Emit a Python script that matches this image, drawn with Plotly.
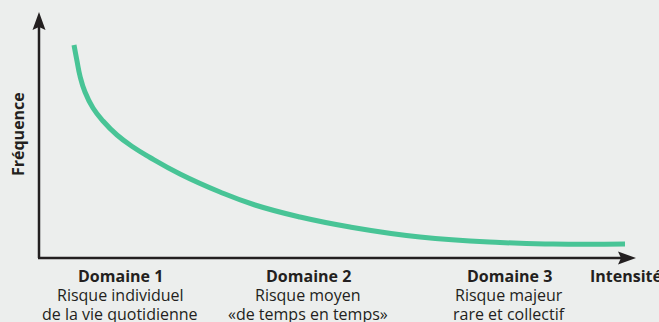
import plotly.graph_objects as go

# curve (intensity vs frequency, arbitrary units)
intensite = [35, 38, 41, 46, 54, 64, 78, 94, 111, 141, 181, 216, 261, 311, 381, 461, 514, 586]
frequence = [213, 197, 182, 166, 150, 137, 123, 111, 100.5, 84, 66, 53, 41, 31, 21, 15.5, 14, 14]

domaines = ["Domaine 1", "Domaine 2", "Domaine 3"]
domaine_x = [81, 269, 470]
sous_titres = [
    ["Risque individuel", "de la vie quotidienne"],
    ["Risque moyen", "«de temps en temps»"],
    ["Risque majeur", "rare et collectif"],
]

INK = "#231f20"
GREEN = "#48c496"
BG = "#eceeed"
FONT = "Open Sans"
SIZE = 16

fig = go.Figure()

fig.add_trace(go.Scatter(
    x=intensite, y=frequence, mode="lines",
    line=dict(color=GREEN, width=5, shape="spline", smoothing=1.3),
    hoverinfo="skip", showlegend=False,
))

# axes drawn as arrows
fig.add_shape(type="line", x0=0, y0=0, x1=0, y1=234, line=dict(color=INK, width=2.5))
fig.add_shape(type="line", x0=-1, y0=0, x1=584, y1=0, line=dict(color=INK, width=2.5))
fig.add_shape(type="path", path="M 0 246 L -6.5 228 L 0 231 L 6.5 228 Z",
              fillcolor=INK, line=dict(width=0))
fig.add_shape(type="path", path="M 597 0 L 579 6.5 L 582 0 L 579 -6.5 Z",
              fillcolor=INK, line=dict(width=0))

for name, x, lines in zip(domaines, domaine_x, sous_titres):
    fig.add_annotation(x=x, y=-18, text=f"<b>{name}</b>", showarrow=False,
                       font=dict(size=SIZE, color=INK, family=FONT))
    for i, t in enumerate(lines):
        fig.add_annotation(x=x, y=-37 - 19 * i, text=t, showarrow=False,
                           font=dict(size=SIZE, color=INK, family=FONT))

fig.add_annotation(x=549, y=-18, text="<b>Intensité</b>", showarrow=False,
                   xanchor="left", font=dict(size=SIZE, color=INK, family=FONT))
fig.add_annotation(x=-21, y=124, text="<b>Fréquence</b>", showarrow=False,
                   textangle=-90, font=dict(size=SIZE, color=INK, family=FONT))

fig.update_layout(
    width=659, height=322,
    margin=dict(l=0, r=0, t=0, b=0),
    paper_bgcolor=BG, plot_bgcolor=BG,
    xaxis=dict(range=[-39, 620], visible=False, fixedrange=True),
    yaxis=dict(range=[-64, 258], visible=False, fixedrange=True),
)

fig.write_html("out.html", config={"displayModeBar": False},
               post_script="document.body.style.margin='0';")
